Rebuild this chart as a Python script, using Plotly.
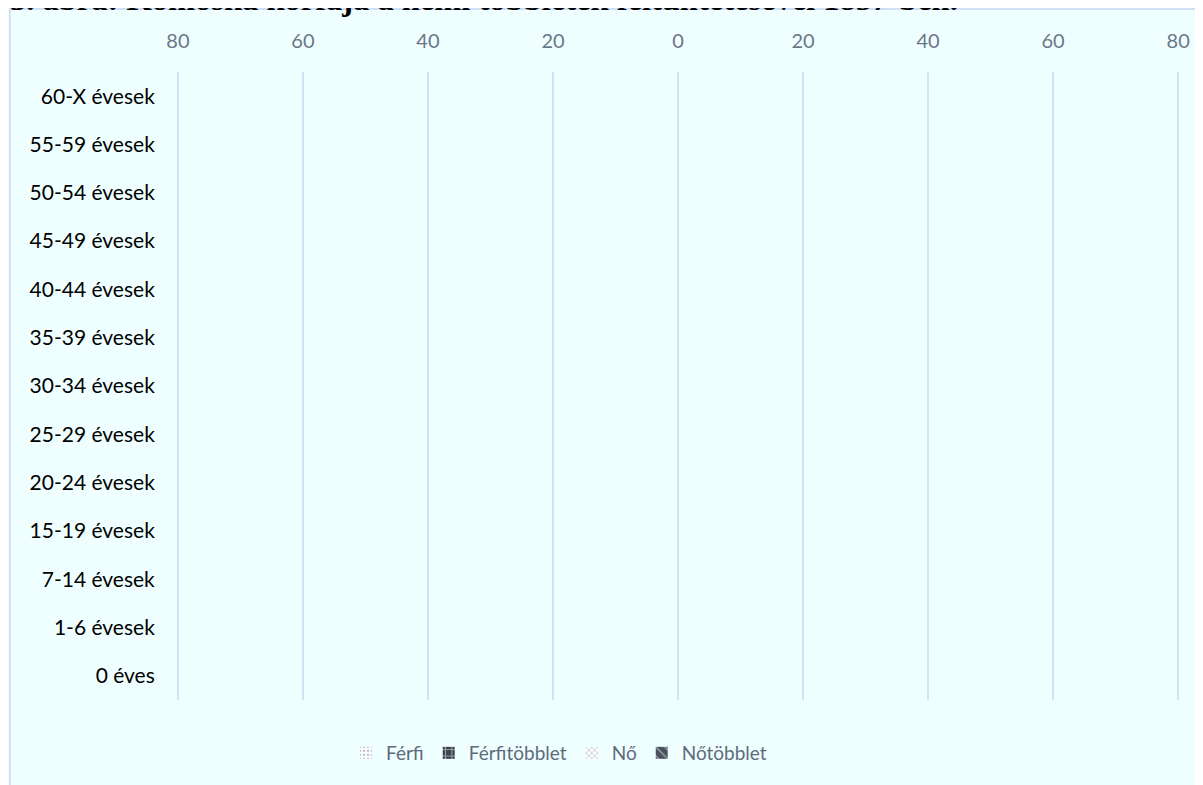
import plotly.graph_objects as go

categories = ["0 éves", "1-6 évesek", "7-14 évesek", "15-19 évesek", "20-24 évesek",
              "25-29 évesek", "30-34 évesek", "35-39 évesek", "40-44 évesek",
              "45-49 évesek", "50-54 évesek", "55-59 évesek", "60-X évesek"]
# No bars are visible in the reference: every value reads as 0
ferfi = [0, 0, 0, 0, 0, 0, 0, 0, 0, 0, 0, 0, 0]
ferfitobblet = [0, 0, 0, 0, 0, 0, 0, 0, 0, 0, 0, 0, 0]
no = [0, 0, 0, 0, 0, 0, 0, 0, 0, 0, 0, 0, 0]
notobblet = [0, 0, 0, 0, 0, 0, 0, 0, 0, 0, 0, 0, 0]
tick_vals = [-80, -60, -40, -20, 0, 20, 40, 60, 80]
tick_text = ["80", "60", "40", "20", "0", "20", "40", "60", "80"]
title = "3. ábra: Komoska korfája a nemi többletek feltüntetésével 1857-ben."

W, H = 1203, 785
PAD = 0.3
L = 170 - PAD * 6.25
pw = 1000 * (160 + 2 * PAD) / 160
R = W - L - pw
T = 64
B = H - 692
ph = H - T - B

def px_x(x):
    return (x - L) / pw

def px_y(y):
    return (H - B - y) / ph

fig = go.Figure()
fig.add_trace(go.Bar(y=categories, x=[-v for v in ferfi], name="Férfi", orientation="h",
                     marker=dict(color="white", line=dict(width=0),
                                 pattern=dict(shape=".", fgcolor="#7d8898", size=5, solidity=0.35))))
fig.add_trace(go.Bar(y=categories, x=[-v for v in ferfitobblet], name="Férfitöbblet", orientation="h",
                     marker=dict(color="#3c4450", line=dict(width=0),
                                 pattern=dict(shape="+", fgcolor="#ffffff", size=8, solidity=0.3))))
fig.add_trace(go.Bar(y=categories, x=no, name="Nő", orientation="h",
                     marker=dict(color="white", line=dict(width=0),
                                 pattern=dict(shape="x", fgcolor="#7d8898", size=5, solidity=0.35))))
fig.add_trace(go.Bar(y=categories, x=notobblet, name="Nőtöbblet", orientation="h",
                     marker=dict(color="#4a5260", line=dict(width=0),
                                 pattern=dict(shape="\\", fgcolor="#ffffff", size=8, solidity=0.2))))

fig.update_layout(
    width=W, height=H,
    margin=dict(l=L, r=R, t=T, b=B, autoexpand=False),
    barmode="relative", bargap=0.3,
    paper_bgcolor="white", plot_bgcolor="rgba(0,0,0,0)",
    font=dict(family="Lato, Open Sans, sans-serif", size=20, color="#000000"),
    showlegend=True,
    legend=dict(orientation="h", x=px_x(551), xanchor="center", y=px_y(745), yanchor="middle",
                font=dict(size=19, color="#5f6b7a"), bgcolor="rgba(0,0,0,0)",
                itemwidth=30, tracegroupgap=0),
    xaxis=dict(range=[-80 - PAD, 80 + PAD], side="top", tickvals=tick_vals, ticktext=tick_text,
               showgrid=True, gridcolor="#d3e1f7", gridwidth=2, zeroline=False,
               showline=False, ticks="outside", ticklen=15, tickcolor="rgba(0,0,0,0)",
               tickfont=dict(size=20, color="#6b7787"), fixedrange=True),
    yaxis=dict(type="category", categoryorder="array", categoryarray=categories,
               showgrid=False, zeroline=False, showline=False,
               ticks="outside", ticklen=16, tickcolor="rgba(0,0,0,0)",
               tickfont=dict(size=21, color="#000000"), fixedrange=True),
    shapes=[dict(type="rect", xref="paper", yref="paper", layer="below",
                 x0=px_x(2), x1=px_x(1260), y0=px_y(840), y1=px_y(1),
                 fillcolor="#efffff", line=dict(color="#cfdff7", width=2))],
    annotations=[dict(text="<b>" + title + "</b>", xref="paper", yref="paper",
                      x=px_x(0), y=px_y(-9), xanchor="left", yanchor="middle",
                      showarrow=False,
                      font=dict(family="Liberation Serif, Times New Roman, serif",
                                size=32.5, color="#000000"))],
)

fig.write_html("out.html")
